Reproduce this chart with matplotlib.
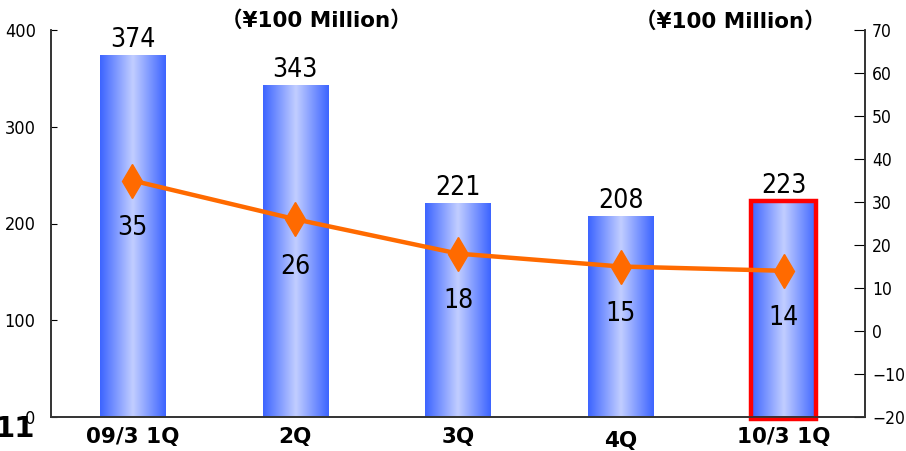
import numpy as np
import matplotlib.pyplot as plt
from matplotlib.patches import Rectangle
from matplotlib.colors import LinearSegmentedColormap

# quarterly figures (¥100 Million)
quarters = ["09/3 1Q", "2Q", "3Q", "4Q", "10/3 1Q"]
bar_values = [374, 343, 221, 208, 223]
line_values = [35, 26, 18, 15, 14]

num_font = dict(family="DejaVu Sans", stretch="condensed")

fig = plt.figure(figsize=(9.06, 4.51), dpi=100)
ax = fig.add_axes([51 / 906, 34 / 451, 814 / 906, 387 / 451])
ax2 = ax.twinx()

x = np.arange(len(quarters))
width = 0.40
bars = ax.bar(x, bar_values, width=width, color="none", edgecolor="none", zorder=2)

# horizontal gradient: saturated blue edges, pale centre
cmap = LinearSegmentedColormap.from_list("barblue", ["#3c64ff", "#c2ceff", "#3c64ff"])
grad = np.linspace(0, 1, 256).reshape(1, -1)
for b in bars:
    x0, w, h = b.get_x(), b.get_width(), b.get_height()
    im = ax.imshow(grad, cmap=cmap, aspect="auto", extent=[x0, x0 + w, 0, h],
                   zorder=2, interpolation="bicubic")
    im.set_clip_path(b)

# highlight last bar
last = bars[-1]
ax.add_patch(Rectangle((last.get_x(), -2), last.get_width(), last.get_height() + 2,
                       fill=False, edgecolor="#ff0000", linewidth=3.2, zorder=3,
                       clip_on=False))

for xi, v in zip(x, bar_values):
    ax.text(xi, v + 2, str(v), ha="center", va="bottom", fontsize=19,
            zorder=5, **num_font)

ax.set_xlim(-0.5, len(quarters) - 0.5)
ax.set_ylim(0, 400)
ax.set_yticks([0, 100, 200, 300, 400])
ax.set_xticks(x)
ax.set_xticklabels(quarters, fontsize=15.5, fontweight="bold")
ax.get_xticklabels()[3].set_y(-0.012)
ax.tick_params(axis="x", length=0, pad=7)
ax.tick_params(axis="y", direction="in", length=4, labelsize=13, pad=11)
for lbl in ax.get_yticklabels():
    lbl.set_family("DejaVu Sans")
    lbl.set_stretch("condensed")

ax2.plot(x, line_values, color="#ff6a00", linewidth=3.2, zorder=4)
ax2.plot(x, line_values, linestyle="none", marker="d", markersize=17,
         color="#ff6a00", zorder=4)
for xi, v in zip(x, line_values):
    ax2.text(xi, v - 11, str(v), ha="center", va="center", fontsize=19,
             zorder=5, **num_font)
ax2.set_ylim(-20, 70)
ax2.set_yticks(range(-20, 71, 10))
ax2.tick_params(axis="y", direction="in", length=8, labelsize=12.5, pad=5)
for lbl in ax2.get_yticklabels():
    lbl.set_family("DejaVu Sans")
    lbl.set_stretch("condensed")

for a in (ax, ax2):
    a.spines["top"].set_visible(False)
    for s in ("left", "right", "bottom"):
        a.spines[s].set_color("#333333")
        a.spines[s].set_linewidth(1.2)
ax2.patch.set_visible(False)

unit = "（¥100 Million）"
fam = ["DejaVu Sans", "Noto Sans CJK JP"]
fig.text(316 / 906, 1 - 21 / 451, unit, ha="center", va="center", fontsize=15.5,
         fontweight="bold", family=fam)
fig.text(730 / 906, 1 - 22 / 451, unit, ha="center", va="center", fontsize=15.5,
         fontweight="bold", family=fam)
fig.text(-5 / 906, 1 - 429 / 451, "11", ha="left", va="center", fontsize=21,
         fontweight="bold")

fig.savefig("out.png", dpi=100)
